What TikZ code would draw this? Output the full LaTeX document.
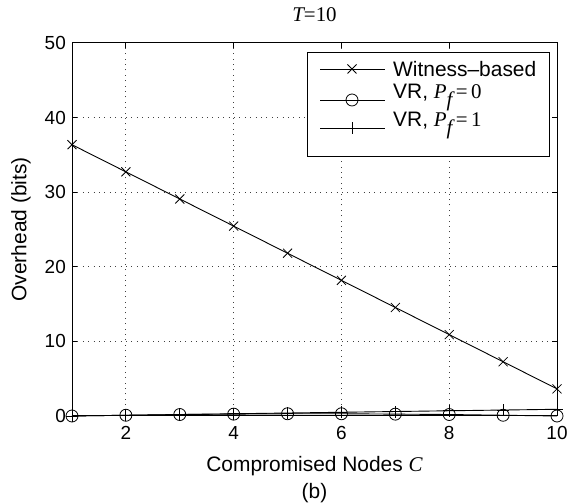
\documentclass[tikz,border=0pt]{standalone}
\usepackage{fontspec}
\setmainfont{Liberation Sans}
\newfontfamily\tms{Liberation Serif}
\begin{document}
\begin{tikzpicture}[x=1bp,y=1bp,
  axisline/.style={line width=1bp, black},
  gridline/.style={black!75, line width=0.8bp, dash pattern=on 0.9bp off 4.5bp},
  dataline/.style={line width=0.9bp, black},
  ticklbl/.style={font=\fontsize{19}{19}\selectfont, inner sep=0pt},
  lbl/.style={font=\fontsize{21}{21}\selectfont, inner sep=0pt},
  mk/.style={line width=0.8bp, black},
  legendbox/.style={draw, line width=1bp, fill=white}
]
\useasboundingbox (0,0) rectangle (569,504);

% data area: C = 1..10 horizontally, overhead 0..50 vertically
\begin{scope}[shift={(72,88)}, x=53.889bp, y=7.46bp]
  % grid
  \foreach \c in {1,3,5,7} \draw[gridline] (\c,0) -- (\c,50);
  \foreach \v in {10,20,30,40} \draw[gridline] (0,\v) -- (9,\v);

  % frame and ticks
  \draw[axisline] (0,0) rectangle (9,50);
  \foreach \c in {1,3,5,7} {
    \draw[axisline] (\c,0) -- ++(0,5bp);
    \draw[axisline] (\c,50) -- ++(0,-5bp);
  }
  \foreach \v in {10,20,30,40} {
    \draw[axisline] (0,\v) -- ++(5bp,0);
    \draw[axisline] (9,\v) -- ++(-5bp,0);
  }

  % tick labels
  \foreach \v in {0,10,20,30,40,50}
    \node[ticklbl, anchor=east] (yl\v) at ([xshift=-6bp]0,\v) {\v};
  \foreach \c/\t in {1/2,3/4,5/6,7/8,9/10}
    \node[ticklbl] (xl\t) at ([yshift=-17bp]\c,0) {\t};

  % Witness-based
  \draw[dataline] (0,36.364) \foreach \c in {1,...,9} { -- ({\c},{40*(10-\c)/11}) };
  \foreach \c in {0,...,9}
    \draw[mk] ({\c},{40*(10-\c)/11}) ++(-4.5bp,-4.5bp) -- ++(9bp,9bp) ++(-9bp,0) -- ++(9bp,-9bp);

  % VR, P_f = 1
  \draw[dataline] (0,0) \foreach \c in {1,...,9} { -- ({\c},{0.1*\c}) };
  \foreach \c in {0,...,9}
    \draw[mk] ({\c},{0.1*\c}) ++(-6bp,0) -- ++(12bp,0) ++(-6bp,-6bp) -- ++(0,12bp);

  % VR, P_f = 0
  \draw[dataline] (0,0) -- (1,0.1) -- (2,0.2) -- (3,0.25) -- (4,0.3) -- (5,0.3)
    -- (6,0.25) -- (7,0.2) -- (8,0.1) -- (9,0);
  \foreach \c/\v in {0/0,1/0.1,2/0.2,3/0.25,4/0.3,5/0.3,6/0.25,7/0.2,8/0.1,9/0}
    \draw[mk] (\c,\v) circle[radius=6bp];
\end{scope}

% legend
\draw[legendbox] (307,347) rectangle (549,451);
\draw[dataline] (320,435) -- (385,435);
\draw[mk] (352,435) ++(-4.5,-4.5) -- ++(9,9) ++(-9,0) -- ++(9,-9);
\node[lbl, anchor=west] (lg1) at (393,435) {Witness–based};
\draw[dataline] (320,404) -- (385,404);
\draw[mk] (352,404) circle[radius=6];
\node[lbl, anchor=west] (lg2) at (393,406) {VR, {\tms\itshape P}\raisebox{-8bp}{\tms\itshape f}{\tms\,=\,0}};
\draw[dataline] (320,376) -- (385,376);
\draw[mk] (352,370) -- (352,382);
\node[lbl, anchor=west] (lg3) at (393,378) {VR, {\tms\itshape P}\raisebox{-8bp}{\tms\itshape f}{\tms\,=\,1}};

% titles and axis labels
\node[lbl] (title) at (314.5,489) {{\tms\itshape T}{\tms =10}};
\node[lbl] (xlabel) at (314.5,38) {Compromised Nodes {\tms\itshape C}};
\node[lbl] (sub) at (314.5,11) {(b)};
\node[lbl, rotate=90] (ylabel) at (21,274.5) {Overhead (bits)};
\end{tikzpicture}
\end{document}
